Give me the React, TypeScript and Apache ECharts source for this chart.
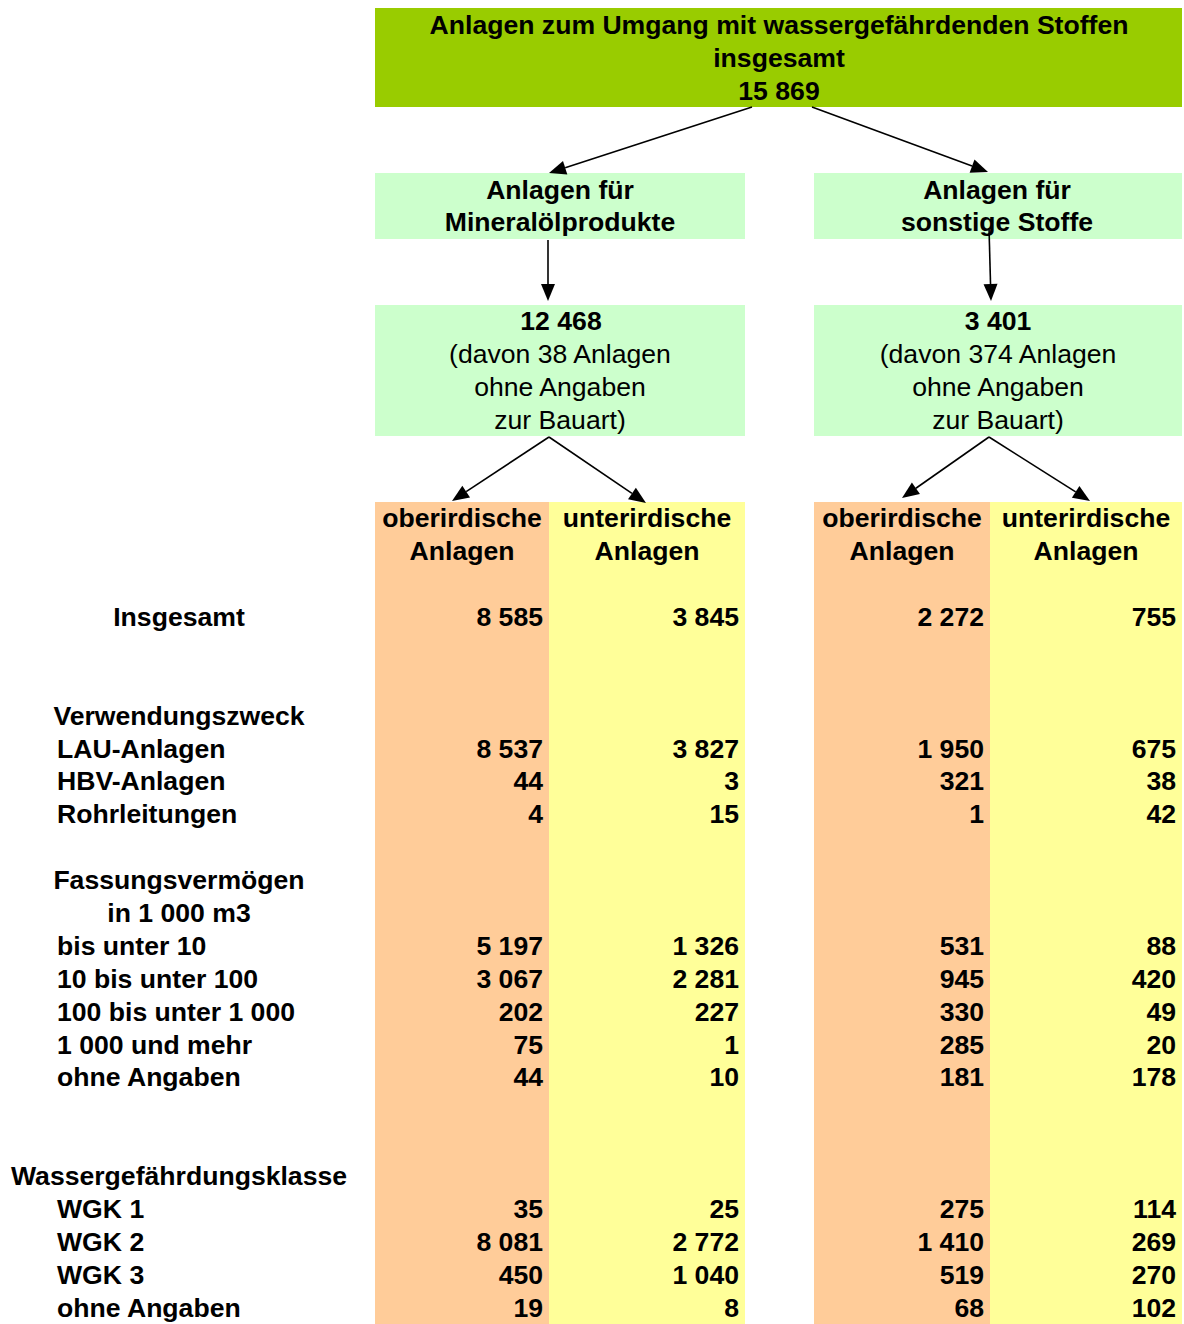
import React, { useEffect, useRef } from "react";
import * as echarts from "echarts";

const W = 1184;
const H = 1324;
const FONT = '"Liberation Sans", Arial, Helvetica, sans-serif';
const FS = 26.6;

// ---- data ----
const totalAll = 15869;
const totalMineral = 12468;
const totalSonstige = 3401;
const ohneBauartMineral = 38;
const ohneBauartSonstige = 374;

const titleLines = ["Anlagen zum Umgang mit wassergefährdenden Stoffen", "insgesamt"];
const groupTitles = [
  ["Anlagen für", "Mineralölprodukte"],
  ["Anlagen für", "sonstige Stoffe"],
];
const columnHeaders = [
  ["oberirdische", "Anlagen"],
  ["unterirdische", "Anlagen"],
  ["oberirdische", "Anlagen"],
  ["unterirdische", "Anlagen"],
];

const rowLabels = [
  "", "", "", "Insgesamt", "", "", "Verwendungszweck", "LAU-Anlagen", "HBV-Anlagen",
  "Rohrleitungen", "", "Fassungsvermögen", "in 1 000 m3", "bis unter 10", "10 bis unter 100",
  "100 bis unter 1 000", "1 000 und mehr", "ohne Angaben", "", "", "Wassergefährdungsklasse",
  "WGK 1", "WGK 2", "WGK 3", "ohne Angaben",
];
const headingRows = ["Insgesamt", "Verwendungszweck", "Fassungsvermögen", "in 1 000 m3", "Wassergefährdungsklasse"];

const _ = null;
const mineralOber = [_, _, _, 8585, _, _, _, 8537, 44, 4, _, _, _, 5197, 3067, 202, 75, 44, _, _, _, 35, 8081, 450, 19];
const mineralUnter = [_, _, _, 3845, _, _, _, 3827, 3, 15, _, _, _, 1326, 2281, 227, 1, 10, _, _, _, 25, 2772, 1040, 8];
const sonstigeOber = [_, _, _, 2272, _, _, _, 1950, 321, 1, _, _, _, 531, 945, 330, 285, 181, _, _, _, 275, 1410, 519, 68];
const sonstigeUnter = [_, _, _, 755, _, _, _, 675, 38, 42, _, _, _, 88, 420, 49, 20, 178, _, _, _, 114, 269, 270, 102];

// ---- layout / style ----
const colLeft = [375, 549, 814, 990];
const colWidth = [174, 196, 176, 192];
const colColors = ["#FFCC99", "#FFFF99", "#FFCC99", "#FFFF99"];

const fmt = (n: number) => String(n).replace(/\B(?=(\d{3})+(?!\d))/g, " ");

function txt(x: number, y: number, text: string, bold: boolean, lineHeight = 33) {
  return {
    type: "text",
    x,
    y,
    style: {
      text,
      fontSize: FS,
      fontWeight: bold ? "bold" : "normal",
      fontFamily: FONT,
      fill: "#000",
      align: "center",
      verticalAlign: "middle",
      lineHeight,
    },
  };
}

function arrow(x1: number, y1: number, x2: number, y2: number) {
  const dx = x2 - x1;
  const dy = y2 - y1;
  const len = Math.hypot(dx, dy);
  const ux = dx / len;
  const uy = dy / len;
  const hl = 17;
  const hw = 7;
  const bx = x2 - ux * hl;
  const by = y2 - uy * hl;
  return [
    { type: "line", shape: { x1, y1, x2: bx, y2: by }, style: { stroke: "#000", lineWidth: 1.6 } },
    {
      type: "polygon",
      shape: { points: [[x2, y2], [bx - uy * hw, by + ux * hw], [bx + uy * hw, by - ux * hw]] },
      style: { fill: "#000" },
    },
  ];
}

export default function App() {
  const ref = useRef<HTMLDivElement>(null);

  useEffect(() => {
    if (!ref.current) return;
    const chart = echarts.init(ref.current, undefined, { renderer: "svg" });

    const columns = [mineralOber, mineralUnter, sonstigeOber, sonstigeUnter];
    const labelFont = {
      fontSize: FS,
      fontWeight: "bold",
      fontFamily: FONT,
      color: "#000",
      textBorderWidth: 0,
      opacity: 1,
    };

    const grids = colLeft.map((l, i) => ({
      left: l,
      width: colWidth[i],
      top: 502,
      height: 825,
      show: true,
      backgroundColor: colColors[i],
      borderWidth: 0,
    }));
    const xAxes = grids.map((g, i) => ({ type: "value", gridIndex: i, min: 0, max: 1, show: false }));
    const hiddenCat = (gi: number) => ({
      type: "category",
      gridIndex: gi,
      data: rowLabels,
      inverse: true,
      show: false,
    });
    const yAxes = [
      {
        type: "category",
        gridIndex: 0,
        position: "left",
        data: rowLabels,
        inverse: true,
        axisLine: { show: false },
        axisTick: { show: false },
        splitLine: { show: false },
        axisLabel: {
          interval: 0,
          margin: 196,
          align: "center",
          formatter: (v: string) => (headingRows.includes(v) ? v : ""),
          ...labelFont,
        },
      },
      {
        type: "category",
        gridIndex: 0,
        position: "left",
        offset: 0,
        data: rowLabels,
        inverse: true,
        axisLine: { show: false },
        axisTick: { show: false },
        splitLine: { show: false },
        axisLabel: {
          interval: 0,
          margin: 318,
          align: "left",
          formatter: (v: string) => (headingRows.includes(v) ? "" : v),
          ...labelFont,
        },
      },
      hiddenCat(1),
      hiddenCat(2),
      hiddenCat(3),
    ];

    const series: any[] = [];
    columns.forEach((vals, c) => {
      const yi = c === 0 ? 0 : c + 1;
      series.push({
        type: "scatter",
        xAxisIndex: c,
        yAxisIndex: yi,
        symbolSize: 0,
        silent: true,
        data: vals
          .map((v, i) => (v == null ? null : [1, i, v]))
          .filter((d) => d !== null),
        label: {
          show: true,
          position: "left",
          distance: 6,
          formatter: (p: any) => fmt(p.value[2]),
          ...labelFont,
        },
      });
      series.push({
        type: "scatter",
        xAxisIndex: c,
        yAxisIndex: yi,
        symbolSize: 0,
        silent: true,
        data: columnHeaders[c].map((t, i) => ({ value: [0.5, i], name: t })),
        label: {
          show: true,
          position: "inside",
          formatter: "{b}",
          ...labelFont,
        },
      });
    });

    const graphic: any[] = [
      { type: "rect", shape: { x: 375, y: 8, width: 807, height: 99 }, style: { fill: "#99CC00" } },
      txt(779, 57.5, [...titleLines, fmt(totalAll)].join("\n"), true),
      { type: "rect", shape: { x: 375, y: 173, width: 370, height: 66 }, style: { fill: "#CCFFCC" } },
      { type: "rect", shape: { x: 814, y: 173, width: 368, height: 66 }, style: { fill: "#CCFFCC" } },
      txt(560, 206, groupTitles[0].join("\n"), true, 32),
      txt(997, 206, groupTitles[1].join("\n"), true, 32),
      { type: "rect", shape: { x: 375, y: 305, width: 370, height: 131 }, style: { fill: "#CCFFCC" } },
      { type: "rect", shape: { x: 814, y: 305, width: 368, height: 131 }, style: { fill: "#CCFFCC" } },
      txt(561, 321, fmt(totalMineral), true),
      txt(560, 387, `(davon ${ohneBauartMineral} Anlagen\nohne Angaben\nzur Bauart)`, false),
      txt(998, 321, fmt(totalSonstige), true),
      txt(998, 387, `(davon ${ohneBauartSonstige} Anlagen\nohne Angaben\nzur Bauart)`, false),
      ...arrow(752, 107, 549, 173),
      ...arrow(812, 107, 988, 172),
      ...arrow(548, 240, 548, 301),
      ...arrow(989, 228, 991, 301),
      ...arrow(549, 437, 452, 501),
      ...arrow(549, 437, 646, 503),
      ...arrow(989, 437, 902, 498),
      ...arrow(989, 437, 1090, 501),
    ];

    chart.setOption({
      animation: false,
      backgroundColor: "#fff",
      textStyle: { fontFamily: FONT },
      grid: grids,
      xAxis: xAxes,
      yAxis: yAxes,
      series,
      graphic,
    });

    return () => chart.dispose();
  }, []);

  return (
    <div
      ref={ref}
      style={{ position: "absolute", left: 0, top: 0, width: W, height: H }}
    />
  );
}
